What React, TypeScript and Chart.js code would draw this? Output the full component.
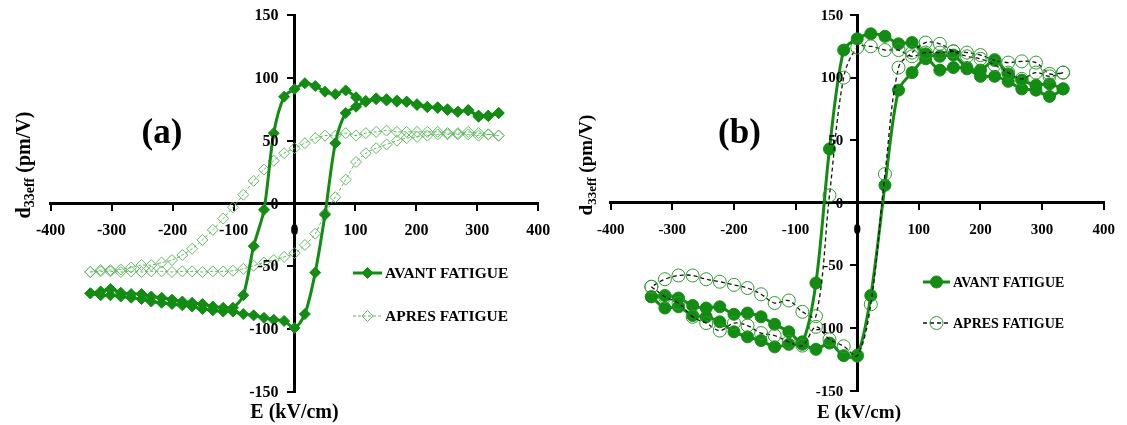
import React, { useEffect, useRef } from 'react';
import { Chart, registerables } from 'chart.js';

Chart.register(...registerables);

// ---------- Panel (a) data ----------
const E_A = [-335, -318, -302, -285, -268, -251, -235, -218, -201, -184, -168, -151, -134, -117, -101, -84, -67, -50, -34, -17, 0, 17, 34, 50, 67, 84, 101, 117, 134, 151, 168, 184, 201, 218, 235, 251, 268, 285, 302, 318, 335];
// increasing-field branch (values in ascending E order)
const A_AVANT_UP = [-71.5, -73, -73, -74, -75, -76, -78, -79, -80, -81, -82, -84, -85, -86, -86, -88, -89, -91, -92.5, -93.5, -99, -88, -55, -9, 48, 72, 77, 81, 83, 82, 82, 81, 79, 77, 76, 75, 73, 74, 70, 70, 72];
// decreasing-field branch (values in ascending E order)
const A_AVANT_DOWN = [-71.5, -70, -68, -71, -72, -72, -74, -75, -76.5, -78, -79, -80, -82, -83, -83, -73, -34, -5, 56, 85, 91, 95.7, 93.5, 89, 87, 90, 84.5, 81.6, 83.7, 83, 81, 81, 78.4, 76.6, 76.6, 74.4, 73, 74.4, 69, 69.5, 72];
const A_APRES_UP = [-54.5, -54, -54, -54.5, -54, -54.5, -54, -54, -54.5, -54, -54, -54.5, -54, -54, -53.5, -52, -49.5, -47, -45, -42.5, -39.5, -33, -24, -8, 5, 19, 33, 40, 44, 47, 50, 52, 53, 54, 55, 55, 55, 55, 54, 55, 54];
const A_APRES_DOWN = [-54.5, -53, -53, -52.5, -51, -49, -49, -47, -45, -41, -36, -29, -21, -12, -3, 7, 18, 27, 34, 40, 44, 48, 52, 54, 54, 56, 54, 56, 57, 58, 57, 57, 57, 57, 57, 56, 56, 57, 56, 55, 54];

// ---------- Panel (b) data ----------
const E_B = [-334, -312, -290, -267, -245, -223, -200, -178, -156, -134, -111, -89, -67, -45, -22, 0, 22, 45, 67, 89, 111, 134, 156, 178, 200, 223, 245, 267, 290, 312, 334];
const B_AVANT_UP = [-75, -84, -83, -90, -91, -95, -103, -107, -110, -115, -113, -113, -117, -112, -122, -122, -74, 14, 90, 104, 115, 106, 108, 107, 101, 101, 97, 91, 90, 85, 91];
const B_AVANT_DOWN = [-75, -74, -76, -82, -84, -83, -89, -88, -91, -97, -103, -111, -64, 43, 122, 131, 135, 133, 127, 128, 119, 117, 118, 108, 106, 114, 103, 98, 94, 95, 91];
const B_APRES_UP = [-67, -75, -80, -91, -96, -102, -96, -98, -104, -106, -111, -114, -99, -109, -114.5, -122, -81, 23, 108, 120, 128, 127, 121, 117, 115, 110, 104, 99, 104, 101, 104];
const B_APRES_DOWN = [-67, -61, -58, -58, -61, -63, -65.5, -68, -73, -80, -78, -87, -90.5, 6, 100, 124, 125, 122, 122, 117, 120, 120, 121, 120, 118, 114, 112, 113, 112, 103, 104];

// ---------- Axis ticks / labels ----------
const X_MIN = -400, X_MAX = 400, X_STEP = 100;
const Y_MIN = -150, Y_MAX = 150, Y_STEP = 50;
const SERIES_NAMES = ['AVANT FATIGUE', 'APRES FATIGUE'];
const X_TITLE = 'E (kV/cm)';

const FONT = '"Liberation Serif", "Times New Roman", serif';
const GREEN = '#128c12';
const LIGHT_GREEN = '#62b862';
const MID_GREEN = '#2f9a2f';

function loop(E: number[], up: number[], down: number[]) {
  const a = E.map((x, i) => ({ x, y: up[i] }));
  const b = E.map((x, i) => ({ x, y: down[i] })).reverse();
  return [...a, ...b];
}

type Style = {
  color: string; width: number; dash: number[];
  marker: 'diamond' | 'circle'; r: number; fill: string; stroke: string; markerWidth: number;
};

function drawMarker(ctx: CanvasRenderingContext2D, s: Style, x: number, y: number) {
  ctx.save();
  ctx.setLineDash([]);
  ctx.beginPath();
  if (s.marker === 'diamond') {
    ctx.moveTo(x - s.r, y); ctx.lineTo(x, y - s.r); ctx.lineTo(x + s.r, y); ctx.lineTo(x, y + s.r); ctx.closePath();
  } else {
    ctx.arc(x, y, s.r, 0, Math.PI * 2);
  }
  ctx.fillStyle = s.fill; ctx.fill();
  ctx.lineWidth = s.markerWidth; ctx.strokeStyle = s.stroke; ctx.stroke();
  ctx.restore();
}

type PanelDef = {
  left: number; width: number;
  padding: { left: number; right: number; top: number; bottom: number };
  tickSize: number;
  yLabelGap: number;
  xTitle: { x: number; y: number; size: number };
  yTitle: { x: number; y: number; size: number };
  label: { text: string; x: number; y: number; size: number };
  legend: { x0: number; x1: number; tx: number; ys: number[]; size: number };
  styles: Style[];
  data: { x: number; y: number }[][];
  tension: number[];
};

const PANELS: PanelDef[] = [
  {
    left: 0, width: 563,
    padding: { left: 50.7, right: 24.7, top: 15, bottom: 33 },
    tickSize: 16,
    yLabelGap: 16,
    xTitle: { x: 294.5, y: 418, size: 20 },
    yTitle: { x: 23, y: 165, size: 20 },
    label: { text: '(a)', x: 162, y: 134, size: 35 },
    legend: { x0: 353, x1: 382, tx: 385, ys: [273, 316], size: 15.5 },
    styles: [
      { color: GREEN, width: 3, dash: [], marker: 'diamond', r: 5.5, fill: GREEN, stroke: GREEN, markerWidth: 1 },
      { color: LIGHT_GREEN, width: 1, dash: [3, 2], marker: 'diamond', r: 5.5, fill: 'rgba(255,255,255,0)', stroke: LIGHT_GREEN, markerWidth: 1 },
    ],
    data: [loop(E_A, A_AVANT_UP, A_AVANT_DOWN), loop(E_A, A_APRES_UP, A_APRES_DOWN)],
    tension: [0.3, 0.3],
  },
  {
    left: 563, width: 564,
    padding: { left: 47.7, right: 18.7, top: 15, bottom: 34.3 },
    tickSize: 15,
    yLabelGap: 14,
    xTitle: { x: 296, y: 418, size: 19 },
    yTitle: { x: 22, y: 165, size: 19 },
    label: { text: '(b)', x: 176.5, y: 134, size: 35 },
    legend: { x0: 360, x1: 387, tx: 390, ys: [282, 323], size: 14 },
    styles: [
      { color: GREEN, width: 3, dash: [], marker: 'circle', r: 6, fill: GREEN, stroke: GREEN, markerWidth: 1 },
      { color: '#111', width: 1.3, dash: [4, 3], marker: 'circle', r: 6.5, fill: 'rgba(255,255,255,0)', stroke: MID_GREEN, markerWidth: 1 },
    ],
    data: [loop(E_B, B_AVANT_UP, B_AVANT_DOWN), loop(E_B, B_APRES_UP, B_APRES_DOWN)],
    tension: [0.3, 0.35],
  },
];

function Panel({ p, topOrder }: { p: PanelDef; topOrder: number[] }) {
  const ref = useRef<HTMLCanvasElement | null>(null);
  useEffect(() => {
    if (!ref.current) return;
    const overlay = {
      id: 'overlay',
      afterDraw(chart: any) {
        const ctx: CanvasRenderingContext2D = chart.ctx;
        ctx.save();
        ctx.fillStyle = '#000';
        // y tick labels (right-aligned, left of the y axis)
        const xs = chart.scales.x;
        const ys = chart.scales.y;
        const axisX = xs.getPixelForValue(0);
        ctx.font = `bold ${p.tickSize}px ${FONT}`;
        ctx.textAlign = 'right';
        ctx.textBaseline = 'middle';
        ys.ticks.forEach((t: any) => {
          ctx.fillText(String(t.value), axisX - p.yLabelGap, ys.getPixelForValue(t.value) + 1);
        });
        // x title
        ctx.font = `bold ${p.xTitle.size}px ${FONT}`;
        ctx.textAlign = 'center';
        ctx.textBaseline = 'alphabetic';
        ctx.fillText(X_TITLE, p.xTitle.x, p.xTitle.y);
        // panel label
        ctx.font = `bold ${p.label.size}px ${FONT}`;
        ctx.textBaseline = 'middle';
        ctx.fillText(p.label.text, p.label.x, p.label.y);
        // legend
        p.styles.forEach((s, i) => {
          const y = p.legend.ys[i];
          ctx.save();
          ctx.strokeStyle = s.color;
          ctx.lineWidth = s.width;
          ctx.setLineDash(s.dash);
          ctx.beginPath();
          ctx.moveTo(p.legend.x0, y);
          ctx.lineTo(p.legend.x1, y);
          ctx.stroke();
          ctx.restore();
          drawMarker(ctx, s, (p.legend.x0 + p.legend.x1) / 2, y);
          ctx.fillStyle = '#000';
          ctx.font = `bold ${p.legend.size}px ${FONT}`;
          ctx.textAlign = 'left';
          ctx.textBaseline = 'middle';
          ctx.fillText(SERIES_NAMES[i], p.legend.tx, y + 1);
        });
        // y title with subscript
        ctx.translate(p.yTitle.x, p.yTitle.y);
        ctx.rotate(-Math.PI / 2);
        const big = `bold ${p.yTitle.size}px ${FONT}`;
        const small = `bold ${Math.round(p.yTitle.size * 0.68)}px ${FONT}`;
        ctx.font = big;
        const w1 = ctx.measureText('d').width;
        const w3 = ctx.measureText(' (pm/V)').width;
        ctx.font = small;
        const w2 = ctx.measureText('33eff').width;
        let x0 = -(w1 + w2 + w3) / 2;
        ctx.textAlign = 'left';
        ctx.textBaseline = 'alphabetic';
        ctx.font = big;
        ctx.fillText('d', x0, 7);
        x0 += w1;
        ctx.font = small;
        ctx.fillText('33eff', x0, 11);
        x0 += w2;
        ctx.font = big;
        ctx.fillText(' (pm/V)', x0, 7);
        ctx.restore();
      },
    };

    const datasets = p.data.map((d, i) => {
      const s = p.styles[i];
      return {
        label: SERIES_NAMES[i],
        data: d,
        showLine: true,
        borderColor: s.color,
        borderWidth: s.width,
        borderDash: s.dash,
        tension: p.tension[i],
        pointStyle: s.marker === 'diamond' ? 'rectRot' : 'circle',
        pointRadius: s.r,
        pointBackgroundColor: s.fill,
        pointBorderColor: s.stroke,
        pointBorderWidth: s.markerWidth,
        order: topOrder[i],
      };
    });

    const tickFont = { family: FONT, size: p.tickSize, weight: 'bold' as const };
    const chart = new Chart(ref.current, {
      type: 'scatter',
      data: { datasets: datasets as any },
      options: {
        animation: false,
        responsive: false,
        maintainAspectRatio: false,
        devicePixelRatio: 1,
        layout: { padding: p.padding },
        plugins: { legend: { display: false }, tooltip: { enabled: false } },
        scales: {
          x: {
            type: 'linear', min: X_MIN, max: X_MAX,
            position: { y: 0 } as any,
            ticks: { stepSize: X_STEP, color: '#000', font: tickFont, padding: 12, maxRotation: 0, autoSkip: false },
            grid: { drawOnChartArea: false, drawTicks: true, tickLength: 6, color: '#000', lineWidth: 2 },
            border: { display: true, color: '#000', width: 3 },
          },
          y: {
            type: 'linear', min: Y_MIN, max: Y_MAX,
            position: { x: 0 } as any,
            ticks: { stepSize: Y_STEP, display: false, autoSkip: false },
            grid: { drawOnChartArea: false, drawTicks: true, tickLength: 6, color: '#000', lineWidth: 2 },
            border: { display: true, color: '#000', width: 3 },
          },
        },
      },
      plugins: [overlay],
    });
    return () => chart.destroy();
  }, []);
  return (
    <canvas
      ref={ref}
      width={p.width}
      height={425}
      style={{ position: 'absolute', left: p.left, top: 0, width: p.width, height: 425 }}
    />
  );
}

export default function App() {
  return (
    <div style={{ position: 'fixed', left: 0, top: 0, width: 1127, height: 425, background: '#fff' }}>
      <Panel p={PANELS[0]} topOrder={[0, 1]} />
      <Panel p={PANELS[1]} topOrder={[1, 0]} />
    </div>
  );
}
